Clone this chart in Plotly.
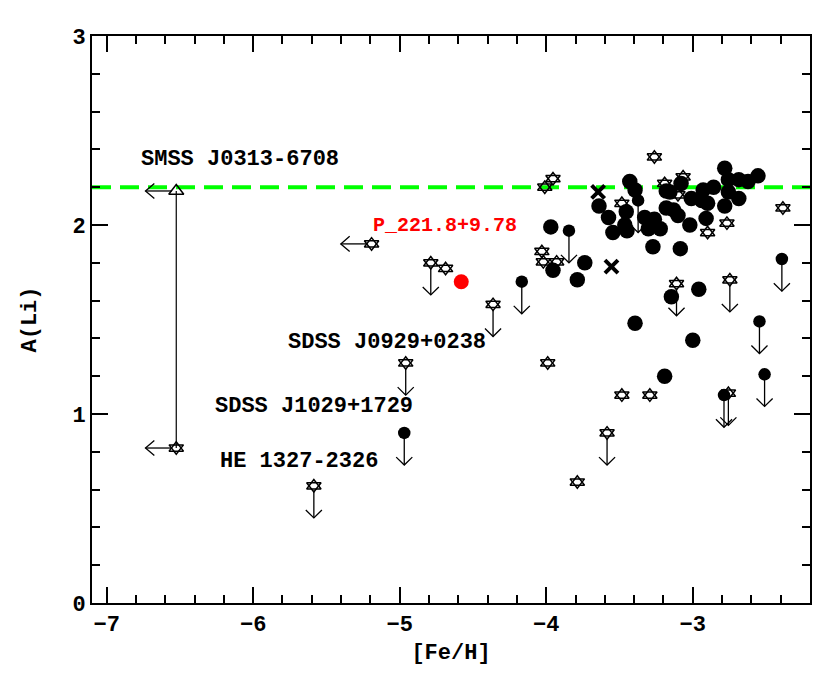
import plotly.graph_objects as go

# filled circles: A(Li) measurements
dwarf_feh = [-3.969, -3.954, -3.737, -3.788, -3.430, -3.394, -3.640, -3.575, -3.454, -3.464,
             -3.545, -3.449, -3.328, -3.262, -3.303, -3.222, -3.272, -3.181, -3.181, -2.782,
             -2.555, -2.623, -2.686, -2.757, -2.858, -2.929, -3.080, -3.156, -3.010, -2.939,
             -2.899, -2.757, -2.686, -2.782, -3.131, -3.101, -2.909, -3.020, -3.085, -2.959,
             -3.146, -3.394, -3.000, -3.192]
dwarf_ali = [1.99, 1.76, 1.80, 1.71, 2.23, 2.185, 2.10, 2.04, 2.07, 2.00,
             1.96, 1.97, 2.04, 2.03, 1.98, 1.98, 1.885, 2.18, 2.09, 2.30,
             2.26, 2.23, 2.24, 2.24, 2.20, 2.185, 2.22, 2.175, 2.14, 2.13,
             2.115, 2.175, 2.14, 2.10, 2.08, 2.05, 2.035, 2.00, 1.875, 1.66,
             1.62, 1.48, 1.39, 1.20]

# filled circles: upper limits on A(Li)
dwarf_lim_feh = [-4.969, -4.167, -3.845, -3.373, -2.392, -2.545, -2.510, -2.787]
dwarf_lim_ali = [0.90, 1.70, 1.97, 2.13, 1.82, 1.49, 1.21, 1.10]

# open stars: A(Li) measurements
giant_feh = [-3.262, -3.954, -4.010, -3.484, -4.030, -4.020, -3.929, -3.066, -3.192, -3.101,
             -2.767, -2.899, -2.385, -3.990, -3.484, -3.293, -3.788, -4.687]
giant_ali = [2.36, 2.245, 2.20, 2.115, 1.86, 1.805, 1.805, 2.255, 2.22, 2.16,
             2.01, 1.96, 2.09, 1.27, 1.10, 1.10, 0.64, 1.77]

# open stars: upper limits on A(Li)
giant_lim_feh = [-5.586, -4.959, -4.363, -4.788, -3.111, -2.747, -3.585, -2.757]
giant_lim_ali = [0.62, 1.27, 1.58, 1.80, 1.69, 1.71, 0.90, 1.11]

# upper limits on [Fe/H]
feh_lim_feh = [-5.192, -6.525]
feh_lim_ali = [1.90, 0.82]
smss_feh = [-6.525]
smss_ali = [2.18]

cross_feh = [-3.646, -3.555]
cross_ali = [2.175, 1.78]

p221_feh = [-4.58]
p221_ali = [1.70]

plateau_ali = 2.2

names = ["SMSS J0313-6708", "SDSS J0929+0238", "SDSS J1029+1729", "HE 1327-2326"]
name_pos = [(-6.09, 2.345), (-5.09, 1.378), (-5.586, 1.04), (-5.687, 0.75)]

# arrow geometry in data units (x: ~146.5 px/dex, y: ~189 px/dex)
DOWN = 0.17
LEFT = 0.21
HX = 0.055
HY = 0.042
GAP_X = 0.03
GAP_Y = 0.025
FONT = "Liberation Mono"


def down_arrows(xs, ys):
    px, py = [], []
    for x, y in zip(xs, ys):
        t = y - DOWN
        px += [x, x, None, x - HX, x, x + HX, None]
        py += [y - GAP_Y, t, None, t + HY, t, t + HY, None]
    return px, py


def left_arrows(xs, ys):
    px, py = [], []
    for x, y in zip(xs, ys):
        t = x - LEFT
        px += [x - GAP_X, t, None, t + HX * 1.1, t, t + HX * 1.1, None]
        py += [y, y, None, y + HY * 0.95, y, y - HY * 0.95, None]
    return px, py


fig = go.Figure()

fig.add_shape(type="line", xref="paper", x0=0, x1=1, yref="y", y0=plateau_ali, y1=plateau_ali,
              line=dict(color="#00ff00", width=4, dash="19px,9px"), layer="below")

# SMSS J0313-6708: link between the two limits
fig.add_trace(go.Scatter(x=smss_feh + feh_lim_feh[1:], y=smss_ali + feh_lim_ali[1:],
                         mode="lines", line=dict(color="black", width=1.2)))

ax_, ay_ = [], []
for fx, fy in [down_arrows(dwarf_lim_feh, dwarf_lim_ali),
               down_arrows(giant_lim_feh, giant_lim_ali),
               left_arrows(feh_lim_feh + smss_feh, feh_lim_ali + smss_ali)]:
    ax_ += fx
    ay_ += fy
fig.add_trace(go.Scatter(x=ax_, y=ay_, mode="lines", line=dict(color="black", width=1.3)))

fig.add_trace(go.Scatter(x=dwarf_feh, y=dwarf_ali, mode="markers",
                         marker=dict(symbol="circle", size=15.5, color="black")))
fig.add_trace(go.Scatter(x=dwarf_lim_feh, y=dwarf_lim_ali, mode="markers",
                         marker=dict(symbol="circle", size=12.5, color="black")))

# star of David = two open triangles
star_feh = giant_feh + giant_lim_feh + feh_lim_feh
star_ali = giant_ali + giant_lim_ali + feh_lim_ali
for sym in ["triangle-up-open", "triangle-down-open"]:
    fig.add_trace(go.Scatter(x=star_feh, y=star_ali, mode="markers",
                             marker=dict(symbol=sym, size=12.5, color="black",
                                         line=dict(width=1.5, color="black"))))

fig.add_trace(go.Scatter(x=smss_feh, y=smss_ali, mode="markers",
                         marker=dict(symbol="triangle-up-open", size=13, color="black",
                                     line=dict(width=1.5, color="black"))))
fig.add_trace(go.Scatter(x=cross_feh, y=cross_ali, mode="markers",
                         marker=dict(symbol="x-thin", size=13, color="black",
                                     line=dict(width=4, color="black"))))
fig.add_trace(go.Scatter(x=p221_feh, y=p221_ali, mode="markers",
                         marker=dict(symbol="circle", size=15, color="#ff0000")))

for name, (px, py) in zip(names, name_pos):
    fig.add_annotation(x=px, y=py, xref="x", yref="y", text=name, showarrow=False,
                       font=dict(family=FONT, size=22, color="black", weight="bold"))
fig.add_annotation(x=-4.692, y=1.995, xref="x", yref="y", text="P_221.8+9.78", showarrow=False,
                   font=dict(family=FONT, size=20, color="#ff0000", weight="bold"))

axis_style = dict(showline=True, linewidth=2, linecolor="black", mirror="allticks",
                  ticks="inside", ticklen=16, tickwidth=2, tickcolor="black",
                  showgrid=False, zeroline=False,
                  tickfont=dict(family=FONT, size=22, color="black", weight="bold"))

fig.update_xaxes(range=[-7.1, -2.2], dtick=1, tick0=0,
                 minor=dict(dtick=0.2, tick0=0, ticks="inside", ticklen=8, tickwidth=1.5,
                            tickcolor="black"),
                 title=dict(text="[Fe/H]", standoff=6,
                            font=dict(family=FONT, size=22, color="black", weight="bold")),
                 **axis_style)
fig.update_yaxes(range=[0, 3], dtick=1, tick0=0,
                 minor=dict(dtick=0.2, tick0=0, ticks="inside", ticklen=8, tickwidth=1.5,
                            tickcolor="black"),
                 title=dict(text="A(Li)", standoff=30,
                            font=dict(family=FONT, size=22, color="black", weight="bold")),
                 **axis_style)

fig.update_layout(width=830, height=689, showlegend=False,
                  plot_bgcolor="white", paper_bgcolor="white",
                  margin=dict(l=84, r=28, t=28, b=94))

fig.write_html("out.html")
